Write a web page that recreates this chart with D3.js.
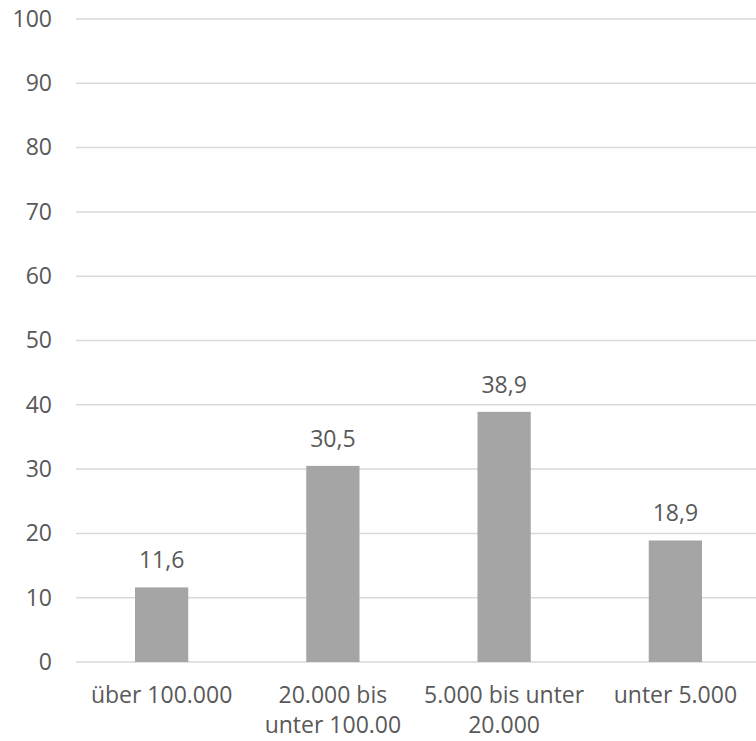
<!DOCTYPE html>
<html>
<head>
<meta charset="utf-8">
<script src="https://cdn.jsdelivr.net/npm/d3@7"></script>
<style>
  html, body { margin: 0; padding: 0; background: #fff; }
  svg { display: block; }
  text { font-family: "Open Sans", "Segoe UI", sans-serif; fill: #595959; }
</style>
</head>
<body>
<script>
// Gemeindegrößenklassen (Einwohner) und Anteile in Prozent
const categories = ["über 100.000", "20.000 bis unter 100.00", "5.000 bis unter 20.000", "unter 5.000"];
const categoryLines = [["über 100.000"], ["20.000 bis", "unter 100.00"], ["5.000 bis unter", "20.000"], ["unter 5.000"]];
const values = [11.6, 30.5, 38.9, 18.9];
const valueLabels = ["11,6", "30,5", "38,9", "18,9"];
const yTicks = [0, 10, 20, 30, 40, 50, 60, 70, 80, 90, 100];

const width = 756, height = 741;
const fontSize = "23px";
const svg = d3.select("body").append("svg")
  .attr("width", width).attr("height", height);

const x = d3.scaleBand()
  .domain(categories)
  .range([76, 761])
  .paddingInner(0.689)
  .paddingOuter(0.3445);

const y = d3.scaleLinear().domain([0, 100]).range([662, 19]);

// horizontal gridlines
svg.append("g")
  .selectAll("line")
  .data(yTicks)
  .join("line")
  .attr("x1", 76).attr("x2", width)
  .attr("y1", d => y(d)).attr("y2", d => y(d))
  .attr("stroke", "#d9d9d9").attr("stroke-width", 1.5);

// y axis labels
const yAxis = d3.axisLeft(y).tickValues(yTicks).tickSize(0).tickPadding(0);
svg.append("g")
  .attr("transform", "translate(52,0)")
  .call(yAxis)
  .call(g => g.select(".domain").remove())
  .selectAll("text")
  .style("font-size", fontSize)
  .style("font-family", "'Open Sans', 'Segoe UI', sans-serif")
  .attr("fill", "#595959");

// bars
svg.append("g")
  .selectAll("rect")
  .data(values)
  .join("rect")
  .attr("x", (d, i) => x(categories[i]))
  .attr("width", x.bandwidth())
  .attr("y", d => y(d))
  .attr("height", d => y(0) - y(d))
  .attr("fill", "#a5a5a5");

// value labels
svg.append("g")
  .selectAll("text")
  .data(values)
  .join("text")
  .attr("x", (d, i) => x(categories[i]) + x.bandwidth() / 2)
  .attr("y", d => y(d) - 19)
  .attr("text-anchor", "middle")
  .style("font-size", fontSize)
  .text((d, i) => valueLabels[i]);

// category labels
const cat = svg.append("g")
  .selectAll("text")
  .data(categories)
  .join("text")
  .attr("x", d => x(d) + x.bandwidth() / 2)
  .attr("y", 703)
  .attr("text-anchor", "middle")
  .style("font-size", fontSize);
cat.selectAll("tspan")
  .data((d, i) => categoryLines[i])
  .join("tspan")
  .attr("x", function () { return d3.select(this.parentNode).attr("x"); })
  .attr("dy", (d, i) => i === 0 ? 0 : 30)
  .text(d => d);
</script>
</body>
</html>
